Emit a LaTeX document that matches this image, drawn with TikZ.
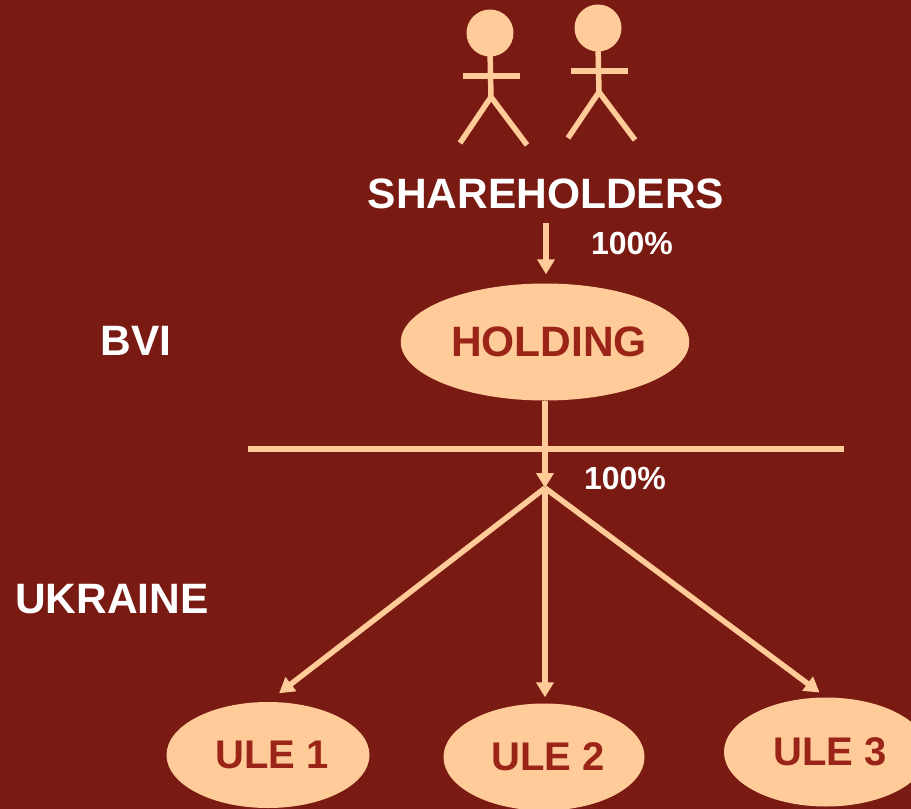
\documentclass[tikz,border=0pt]{standalone}
\usepackage{fontspec}
\setmainfont{Liberation Sans}
\usetikzlibrary{shapes.geometric,arrows.meta}
\definecolor{bgred}{HTML}{7A1B13}
\definecolor{peach}{HTML}{FFCC99}
\definecolor{inkred}{HTML}{9A2418}

\begin{document}
\begin{tikzpicture}[x=1pt,y=-1pt,
        company/.style={ellipse,fill=peach,inner sep=0pt,text=inkred,font=\fontsize{40}{40}\selectfont\bfseries},
        lbl/.style={text=white,inner sep=0pt,font=\fontsize{42.5}{42.5}\selectfont\bfseries},
        pct/.style={text=white,inner sep=0pt,font=\fontsize{32}{32}\selectfont\bfseries},
        stick/.style={draw=peach,line width=5.5pt},
        link/.style={draw=peach,line width=5.5pt,-{Triangle[width=17pt,length=15pt]}}]
    \fill [bgred] (0,0) rectangle (911,809);
    \useasboundingbox (0,0) rectangle (911,809);
    % shareholders
    \foreach \dx/\dy in {0/0,108/-5} {
        \begin{scope}[shift={(\dx,\dy)}]
            \fill [peach] (490,33) circle (23.5);
            \draw [stick] (490,50) -- (491,97);
            \draw [stick] (463,76) -- (520,76);
            \draw [stick] (460,143) -- (491,97) -- (527,145);
        \end{scope}
    }
    \node [lbl] (share) at (546,194) {SHAREHOLDERS};
    \node [pct] (pct1) at (632,243) {100\%};
    % companies
    \node [company,minimum width=284pt,minimum height=117pt,font=\fontsize{42.5}{42.5}\selectfont\bfseries] (hold) at (545,342) {\hspace{8pt}HOLDING};
    \node [company,minimum width=203pt,minimum height=106pt] (ule1) at (268,755) {\hspace{8pt}ULE 1};
    \node [company,minimum width=201pt,minimum height=107pt] (ule2) at (544,757) {\hspace{8pt}ULE 2};
    \node [company,minimum width=204pt,minimum height=109pt] (ule3) at (826,752) {\hspace{8pt}ULE 3};
    % jurisdictions
    \node [lbl] (bvi) at (136,341) {BVI};
    \node [lbl] (ukr) at (112,599) {UKRAINE};
    \coordinate (sepL) at (248,449);
    \coordinate (sepR) at (844,449);
    \draw [peach,line width=5.5pt] (sepL) -- (sepR);
    \node [pct] (pct2) at (625,478) {100\%};
    % ownership
    \coordinate (hub) at (545,488);
    \draw [link,shorten <=14pt,shorten >=9pt] (share.south) -- (share.south |- hold.north);
    \draw [link] (hold.south) -- (hub);
    \draw [link,shorten >=14pt] (hub) -- (ule1.north);
    \draw [link,shorten >=6pt] (hub) -- (hub |- ule2.north);
    \draw [link,shorten >=8pt] (hub) -- (ule3.north);
\end{tikzpicture}
\end{document}
